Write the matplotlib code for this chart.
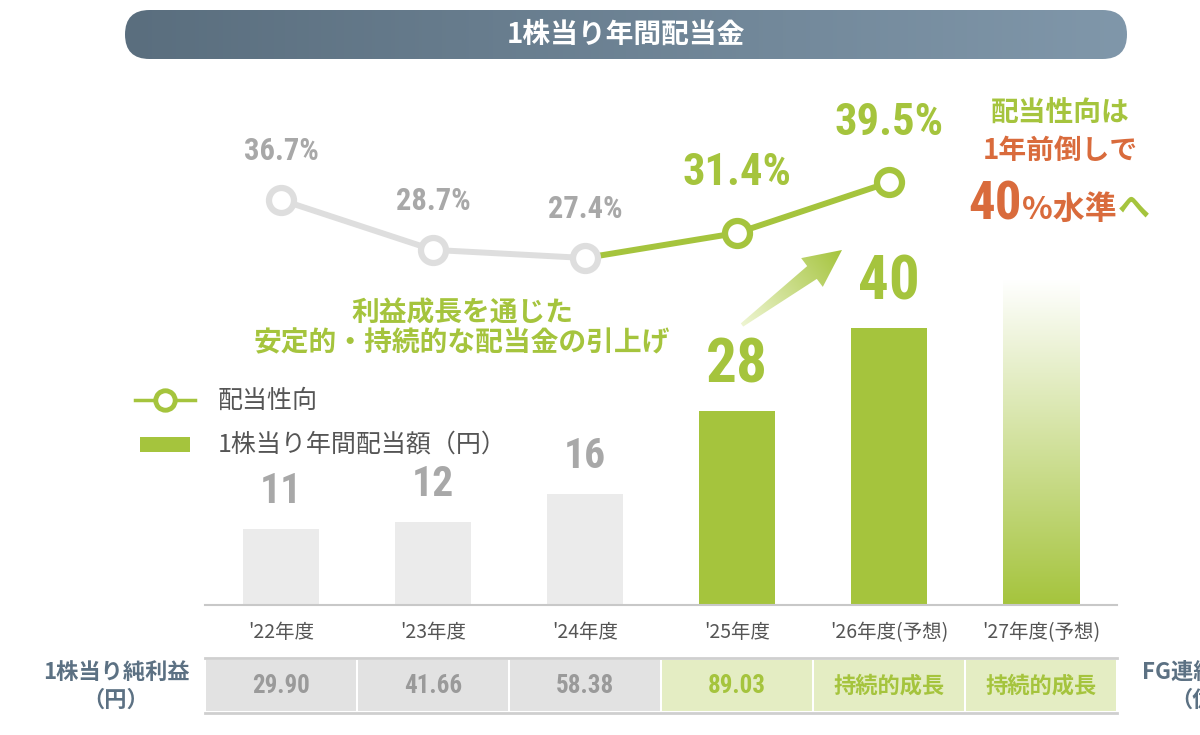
import numpy as np
import matplotlib
matplotlib.use("Agg")
import matplotlib.pyplot as plt
from matplotlib import font_manager
from matplotlib.patches import FancyBboxPatch, Rectangle, Polygon
from matplotlib.colors import LinearSegmentedColormap
from matplotlib.lines import Line2D
from matplotlib.transforms import blended_transform_factory

# data
years = ["'22年度", "'23年度", "'24年度", "'25年度", "'26年度(予想)", "'27年度(予想)"]
dividend = [11, 12, 16, 28, 40, 47]
dividend_labels = ["11", "12", "16", "28", "40", ""]
payout = [36.7, 28.7, 27.4, 31.4, 39.5]
payout_labels = ["36.7%", "28.7%", "27.4%", "31.4%", "39.5%"]
eps = ["29.90", "41.66", "58.38", "89.03", "持続的成長", "持続的成長"]

GREEN = "#a5c43d"
GRAY_BAR = "#ebebeb"
GRAY_LINE = "#dedede"
GRAY_TXT = "#a8a8a8"
ORANGE = "#d96b3c"
SLATE = "#5c7183"
DARK = "#555555"

JP = "Noto Sans CJK JP"
avail = {f.name for f in font_manager.fontManager.ttflist}
NUM = next((f for f in ["Liberation Sans Narrow", "Roboto Condensed", "Roboto"] if f in avail), "DejaVu Sans")

W, H = 1200, 735
fig = plt.figure(figsize=(12, 7.35), dpi=100)


def fx(px):
    return px / W


def fy(py):
    return 1 - py / H


# full-figure pixel axes for decorations
deco = fig.add_axes([0, 0, 1, 1])
deco.set_xlim(0, W)
deco.set_ylim(H, 0)
deco.axis("off")

# title banner with gradient
banner = FancyBboxPatch((125, 10), 1002, 49, boxstyle="round,pad=0,rounding_size=24.5",
                        facecolor="none", edgecolor="none")
deco.add_patch(banner)
bcmap = LinearSegmentedColormap.from_list("b", ["#5a6e7e", "#8097aa"])
bim = deco.imshow(np.linspace(0, 1, 256).reshape(1, -1), cmap=bcmap, extent=(125, 1127, 59, 10),
                  aspect="auto", origin="upper")
bim.set_clip_path(banner)
deco.text(626, 35, "1株当り年間配当金", color="white", fontsize=20, fontweight="bold",
          family=JP, ha="center", va="center")

# gradient arrow
tail = np.array([742.0, 325.0])
tip = np.array([842.0, 250.0])
L = np.linalg.norm(tip - tail)
u = (tip - tail) / L
n = np.array([-u[1], u[0]])


def P(t, w):
    return tail + t * u + w * n


arrow_pts = [P(0, -2), P(L * 0.7, -8), P(L * 0.7, -18), P(L, 0), P(L * 0.7, 18), P(L * 0.7, 8), P(0, 2)]
arrow = Polygon(arrow_pts, closed=True, facecolor="none", edgecolor="none")
deco.add_patch(arrow)
xs = np.linspace(720, 860, 200)
ys = np.linspace(230, 345, 200)
X, Y = np.meshgrid(xs, ys)
proj = ((X - tail[0]) * u[0] + (Y - tail[1]) * u[1]) / L
acmap = LinearSegmentedColormap.from_list("a", ["#eef5d2", GREEN])
aim = deco.imshow(np.clip(proj, 0, 1), cmap=acmap, extent=(720, 860, 345, 230), aspect="auto",
                  origin="upper", vmin=0, vmax=1)
aim.set_clip_path(arrow)
deco.set_xlim(0, W)
deco.set_ylim(H, 0)

# middle annotation
deco.text(462, 313, "利益成長を通じた", color=GREEN, fontsize=20, fontweight="bold", family=JP,
          ha="center", va="center")
deco.text(462, 343, "安定的・持続的な配当金の引上げ", color=GREEN, fontsize=20, fontweight="bold",
          family=JP, ha="center", va="center")

# right annotation
deco.text(1060, 113, "配当性向は", color=GREEN, fontsize=20, fontweight="bold", family=JP,
          ha="center", va="center")
deco.text(1060, 151, "1年前倒しで", color=ORANGE, fontsize=20, fontweight="bold", family=JP,
          ha="center", va="center")
deco.text(1022, 219, "40", color=ORANGE, fontsize=38, fontweight="bold", family=NUM,
          ha="right", va="baseline")
t_lvl = deco.text(1022, 219, "%水準", color=ORANGE, fontsize=23, fontweight="bold", family=JP,
                  ha="left", va="baseline")
fig.canvas.draw()
bb = t_lvl.get_window_extent(fig.canvas.get_renderer())
x_he = deco.transData.inverted().transform((bb.x1, 0))[0]
deco.text(x_he + 1, 219, "へ", color=GREEN, fontsize=23, fontweight="bold", family=JP,
          ha="left", va="baseline")

# legend
deco.add_line(Line2D([135, 195], [400, 400], color=GREEN, lw=2.5))
deco.add_line(Line2D([165], [400], color=GREEN, marker="o", ms=14, mew=3.5, mfc="white"))
deco.text(218, 401, "配当性向", color=DARK, fontsize=18, family=JP, ha="left", va="center")
deco.add_patch(Rectangle((140, 437), 50, 15, facecolor=GREEN, edgecolor="none"))
deco.text(218, 445, "1株当り年間配当額（円）", color=DARK, fontsize=18, family=JP, ha="left", va="center")

# table row labels
deco.text(116, 672, "1株当り純利益", color=SLATE, fontsize=16, fontweight="bold", family=JP,
          ha="center", va="center")
deco.text(116, 700, "（円）", color=SLATE, fontsize=16, fontweight="bold", family=JP,
          ha="center", va="center")
deco.text(1142, 672, "FG連結純利益", color=SLATE, fontsize=16, fontweight="bold", family=JP,
          ha="left", va="center")
deco.text(1170, 700, "（億円）", color=SLATE, fontsize=16, fontweight="bold", family=JP,
          ha="left", va="center")

# bar axes
ax = fig.add_axes([fx(205), fy(605), fx(1117) - fx(205), fy(80) - fy(605)])
ax.patch.set_alpha(0)
x = np.arange(len(years))
bw = 0.505
colors = [GRAY_BAR] * 3 + [GREEN] * 2
ax.bar(x[:5], dividend[:5], width=bw, color=colors, zorder=2)
gbar = ax.bar(x[5], dividend[5], width=bw, color="none", zorder=2)[0]
gcmap = LinearSegmentedColormap.from_list("g", ["#ffffff", GREEN])
gim = ax.imshow(np.linspace(0, 1, 256).reshape(-1, 1), cmap=gcmap,
                extent=(x[5] - bw / 2, x[5] + bw / 2, 0, dividend[5]), aspect="auto",
                origin="upper", zorder=2)
gim.set_clip_path(gbar)
ax.set_xlim(-0.5, 5.5)
ax.set_ylim(0, 75.9)

for i in range(5):
    big = i >= 3
    ax.annotate(dividend_labels[i], (x[i], dividend[i]), xytext=(0, 33 if big else 27),
                textcoords="offset points", ha="center", va="center",
                color=GREEN if big else GRAY_TXT, fontsize=44 if big else 30,
                fontweight="bold", family=NUM)

for s in ["top", "left", "right"]:
    ax.spines[s].set_visible(False)
ax.spines["bottom"].set_color("#c8c8c8")
ax.spines["bottom"].set_linewidth(1.5)
ax.set_yticks([])
ax.set_xticks(x, years)
ax.tick_params(axis="x", length=0, pad=12)
for lab in ax.get_xticklabels():
    lab.set_family(JP)
    lab.set_fontsize(14)
    lab.set_color(DARK)

# table
tb = blended_transform_factory(ax.transData, fig.transFigure)
gap = 0.007
for i, v in enumerate(eps):
    green = i >= 3
    ax.add_patch(Rectangle((i - 0.5 + gap, fy(711)), 1 - 2 * gap, fy(660) - fy(711), transform=tb,
                           facecolor="#e4edc3" if green else "#e2e2e2", edgecolor="none", clip_on=False))
    ax.text(i, fy(686), v, transform=tb, ha="center", va="center",
            color=GREEN if green else "#9a9a9a", fontweight="bold",
            fontsize=18 if i < 4 else 16, family=NUM if i < 4 else JP)
for yy in [658, 713]:
    ax.plot([-0.5, 5.5], [fy(yy), fy(yy)], transform=tb, color="#cfcfcf", lw=2, clip_on=False)

# payout ratio line
ax2 = ax.twinx()
ax2.set_ylim(-28.12, 55.88)
ax2.axis("off")
ax2.plot(x[:3], payout[:3], color=GRAY_LINE, lw=4.3, zorder=3)
ax2.plot(x[2:5], payout[2:5], color=GREEN, lw=4.3, zorder=3)
for i, p in enumerate(payout):
    big = i >= 3
    c = GREEN if big else GRAY_LINE
    ax2.plot(x[i], p, marker="o", ms=18, mew=4.5, mfc="white", mec=c, zorder=4)
    ax2.annotate(payout_labels[i], (x[i], p), xytext=(0, 43 if big else 35), textcoords="offset points",
                 ha="center", va="center", color=GREEN if big else GRAY_TXT,
                 fontsize=32 if big else 22, fontweight="bold", family=NUM)

fig.savefig("out.png", dpi=100)
